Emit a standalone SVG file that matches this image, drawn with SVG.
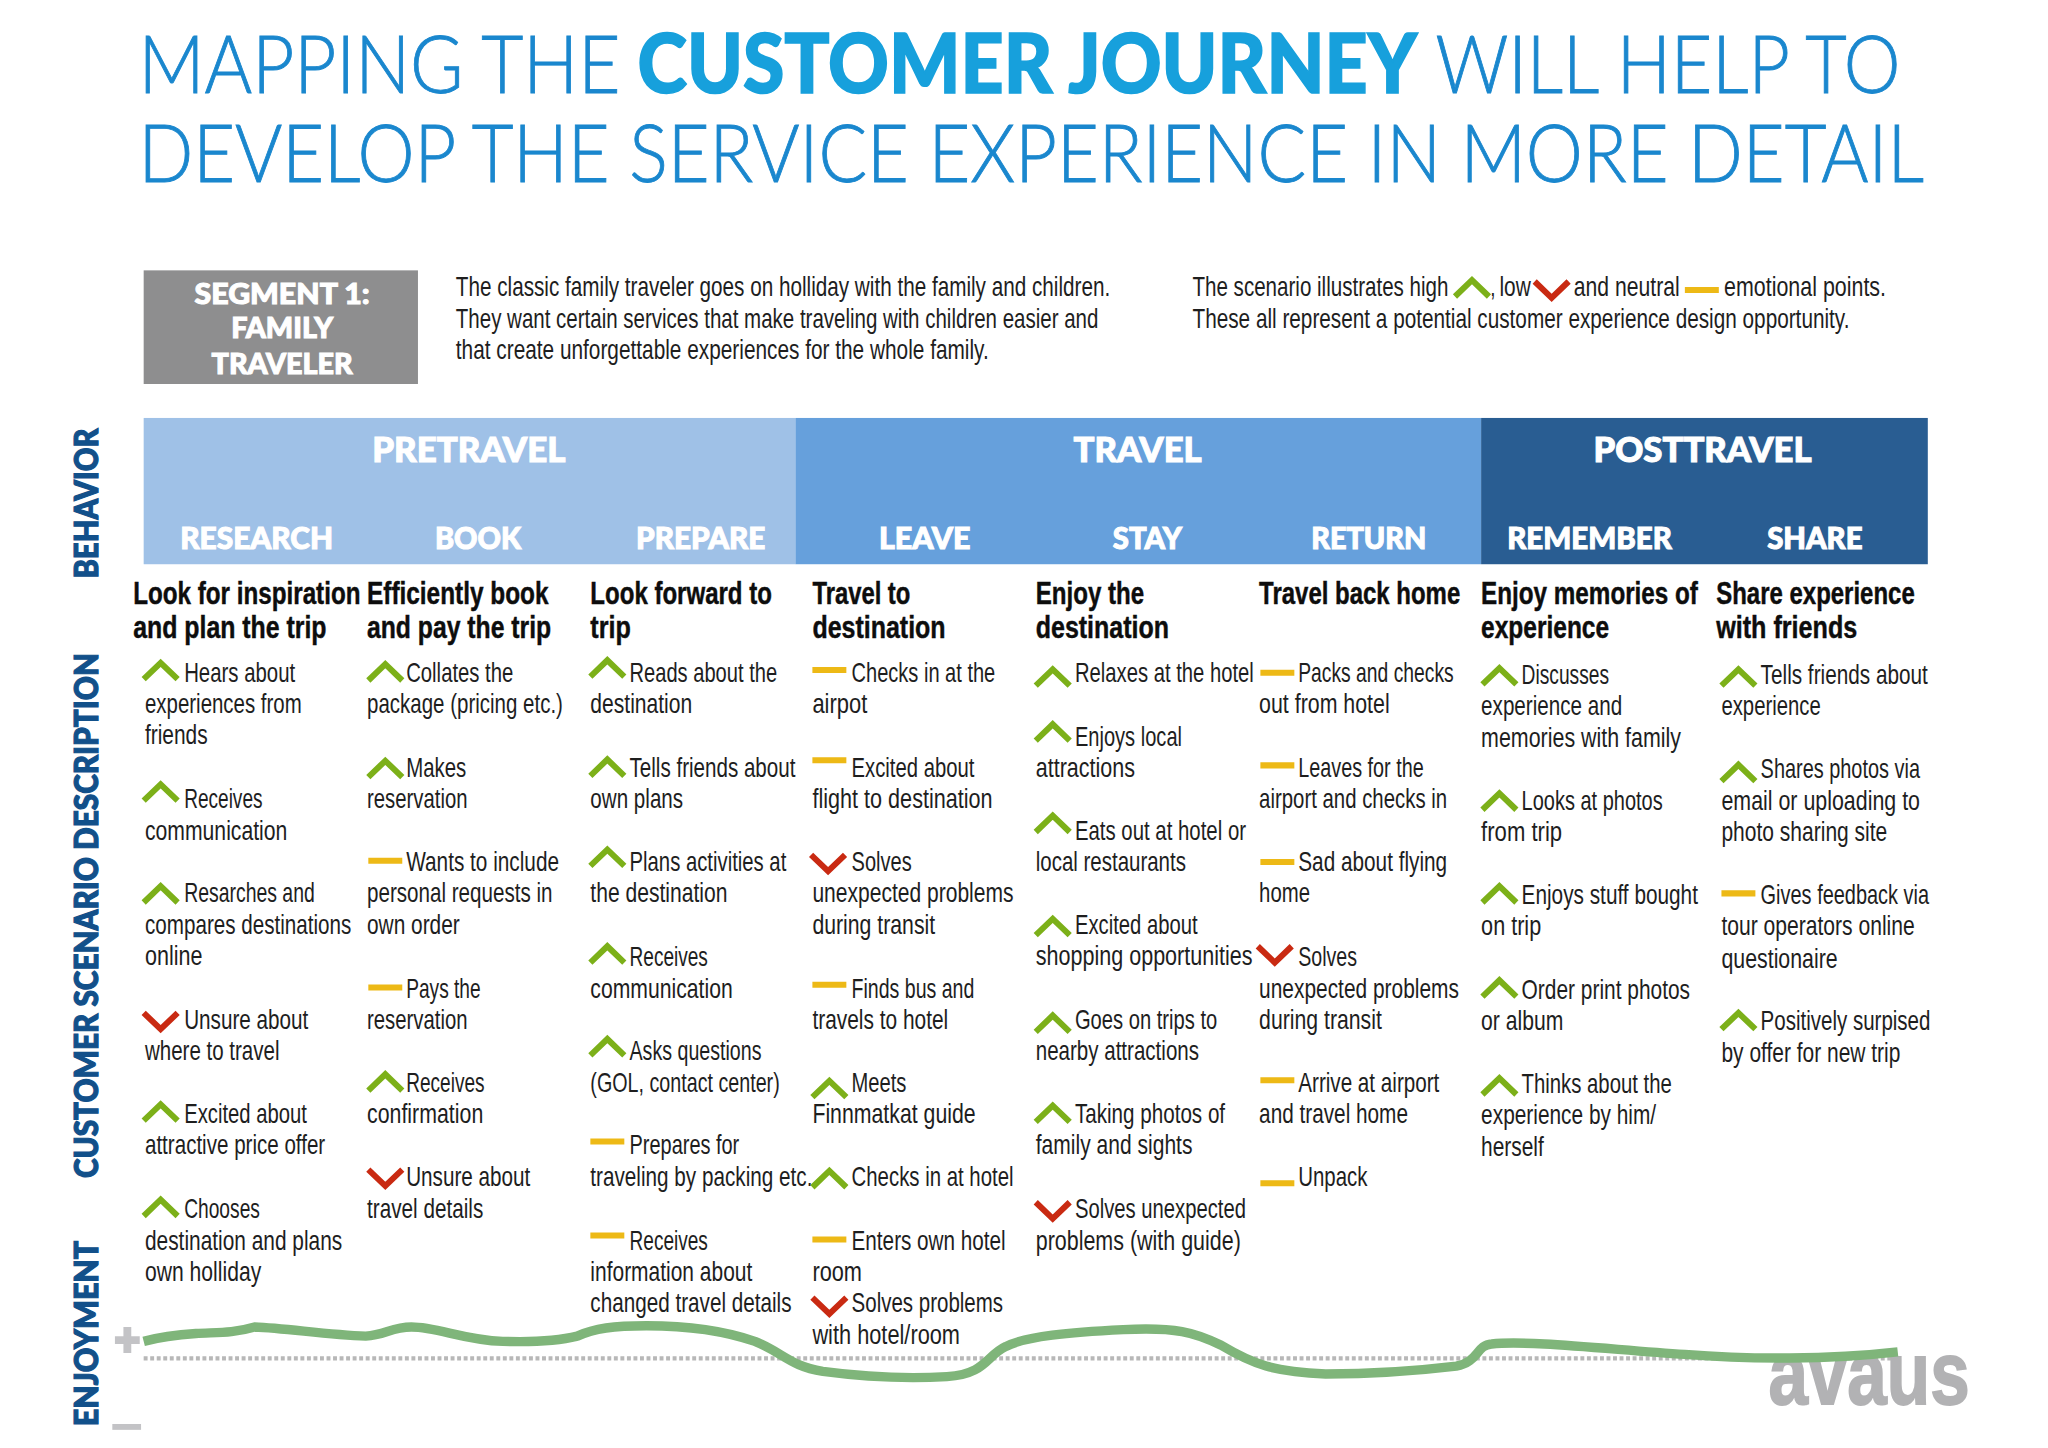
<svg xmlns="http://www.w3.org/2000/svg" width="2048" height="1448" viewBox="0 0 2048 1448">
<style>
text{font-family:"Liberation Sans Narrow","Liberation Sans",sans-serif}
.t{font-size:21.5px;fill:#1e1e1e;transform:translateY(.8px)}
.h{font-size:24.5px;font-weight:700;fill:#0d0d0d;stroke:#0d0d0d;stroke-width:.35px;transform:translateY(.8px)}
.b{font-weight:900;fill:#fff;stroke:#fff;stroke-width:.8px;font-size:26.5px;font-family:"Lato","Open Sans",sans-serif}
.s{font-size:23px}
.g{font-size:22px}
.m{font-family:"Lato","Open Sans",sans-serif;font-size:62px;font-weight:300;fill:#1a87ce;stroke:#1a87ce;stroke-width:.7px}
.mb{font-weight:900;fill:#17a0dc;stroke:#17a0dc;stroke-width:1.2px}
.v{font-family:"Lato","Open Sans",sans-serif;font-weight:900;font-size:24px;fill:#12508a;stroke:#12508a;stroke-width:.9px}
.i{fill:none;stroke-width:4.6}
</style>
<defs>
<polyline id="up" class="i" stroke="#7cb019" points="1,15 14,2.5 27,15"/>
<polyline id="dn" class="i" stroke="#c92a12" points="1,1.5 14,14 27,1.5"/>
<line id="ne" class="i" stroke="#edb916" x1="0" x2="26" y1="0" y2="0"/>
</defs>
<rect width="2048" height="1448" fill="#fff"/>
<g transform="scale(1.3061)">
<g id="title">
<text class="m" x="106" y="71" textLength="369" lengthAdjust="spacingAndGlyphs">MAPPING THE</text>
<text class="m mb" x="488" y="71" textLength="597" lengthAdjust="spacingAndGlyphs">CUSTOMER JOURNEY</text>
<text class="m" x="1099" y="71" textLength="356" lengthAdjust="spacingAndGlyphs">WILL HELP TO</text>
<text class="m" x="106" y="139" textLength="1367" lengthAdjust="spacingAndGlyphs">DEVELOP THE SERVICE EXPERIENCE IN MORE DETAIL</text>
</g>
<g id="segment">
<rect x="110" y="207" width="210" height="87" fill="#8e8e8f"/>
<text class="b g" x="149" y="233" textLength="134" lengthAdjust="spacingAndGlyphs">SEGMENT 1:</text>
<text class="b g" x="177" y="259" textLength="78" lengthAdjust="spacingAndGlyphs">FAMILY</text>
<text class="b g" x="162" y="286" textLength="108" lengthAdjust="spacingAndGlyphs">TRAVELER</text>
</g>
<g id="intro">
<text class="t" x="349" y="226" textLength="501" lengthAdjust="spacingAndGlyphs">The classic family traveler goes on holliday with the family and children.</text>
<text class="t" x="349" y="250" textLength="492" lengthAdjust="spacingAndGlyphs">They want certain services that make traveling with children easier and</text>
<text class="t" x="349" y="274" textLength="408" lengthAdjust="spacingAndGlyphs">that create unforgettable experiences for the whole family.</text>
</g>
<g id="legend">
<text class="t" x="913" y="226" textLength="196" lengthAdjust="spacingAndGlyphs">The scenario illustrates high</text>
<use href="#up" x="1113" y="212"/>
<text class="t" x="1141" y="226" textLength="4" lengthAdjust="spacingAndGlyphs">,</text>
<text class="t" x="1148" y="226" textLength="24" lengthAdjust="spacingAndGlyphs">low</text>
<use href="#dn" x="1174" y="214"/>
<text class="t" x="1205" y="226" textLength="81" lengthAdjust="spacingAndGlyphs">and neutral</text>
<use href="#ne" x="1290" y="222"/>
<text class="t" x="1320" y="226" textLength="124" lengthAdjust="spacingAndGlyphs">emotional points.</text>
<text class="t" x="913" y="250" textLength="503" lengthAdjust="spacingAndGlyphs">These all represent a potential customer experience design opportunity.</text>
</g>
<g id="band">
<rect x="110" y="320" width="499" height="112" fill="#9fc1e7"/>
<rect x="609" y="320" width="525" height="112" fill="#66a0dc"/>
<rect x="1134" y="320" width="342" height="112" fill="#295d92"/>
<text class="b" x="285" y="354" textLength="148" lengthAdjust="spacingAndGlyphs">PRETRAVEL</text>
<text class="b" x="822" y="354" textLength="98" lengthAdjust="spacingAndGlyphs">TRAVEL</text>
<text class="b" x="1220" y="354" textLength="167" lengthAdjust="spacingAndGlyphs">POSTTRAVEL</text>
<text class="b s" x="138" y="420" textLength="117" lengthAdjust="spacingAndGlyphs">RESEARCH</text>
<text class="b s" x="333" y="420" textLength="66" lengthAdjust="spacingAndGlyphs">BOOK</text>
<text class="b s" x="487" y="420" textLength="99" lengthAdjust="spacingAndGlyphs">PREPARE</text>
<text class="b s" x="673" y="420" textLength="70" lengthAdjust="spacingAndGlyphs">LEAVE</text>
<text class="b s" x="852" y="420" textLength="53" lengthAdjust="spacingAndGlyphs">STAY</text>
<text class="b s" x="1004" y="420" textLength="88" lengthAdjust="spacingAndGlyphs">RETURN</text>
<text class="b s" x="1154" y="420" textLength="126" lengthAdjust="spacingAndGlyphs">REMEMBER</text>
<text class="b s" x="1353" y="420" textLength="73" lengthAdjust="spacingAndGlyphs">SHARE</text>
</g>
<g id="side-labels">
<text class="v" transform="translate(75,443) rotate(-90)" textLength="115" lengthAdjust="spacingAndGlyphs">BEHAVIOR</text>
<text class="v" transform="translate(75,902) rotate(-90)" textLength="402" lengthAdjust="spacingAndGlyphs">CUSTOMER SCENARIO DESCRIPTION</text>
<text class="v" transform="translate(75,1092) rotate(-90)" textLength="142" lengthAdjust="spacingAndGlyphs">ENJOYMENT</text>
</g>
<g id="col-research">
<text class="h" x="102" y="462" textLength="174" lengthAdjust="spacingAndGlyphs">Look for inspiration</text>
<text class="h" x="102" y="488" textLength="148" lengthAdjust="spacingAndGlyphs">and plan the trip</text>
<use href="#up" x="109" y="505"/>
<text class="t" x="141" y="521" textLength="85" lengthAdjust="spacingAndGlyphs">Hears about</text>
<text class="t" x="111" y="545" textLength="120" lengthAdjust="spacingAndGlyphs">experiences from</text>
<text class="t" x="111" y="569" textLength="48" lengthAdjust="spacingAndGlyphs">friends</text>
<use href="#up" x="109" y="598"/>
<text class="t" x="141" y="618" textLength="60" lengthAdjust="spacingAndGlyphs">Receives</text>
<text class="t" x="111" y="642" textLength="109" lengthAdjust="spacingAndGlyphs">communication</text>
<use href="#up" x="109" y="676"/>
<text class="t" x="141" y="690" textLength="100" lengthAdjust="spacingAndGlyphs">Resarches and</text>
<text class="t" x="111" y="714" textLength="158" lengthAdjust="spacingAndGlyphs">compares destinations</text>
<text class="t" x="111" y="738" textLength="44" lengthAdjust="spacingAndGlyphs">online</text>
<use href="#dn" x="109" y="774"/>
<text class="t" x="141" y="787" textLength="95" lengthAdjust="spacingAndGlyphs">Unsure about</text>
<text class="t" x="111" y="811" textLength="103" lengthAdjust="spacingAndGlyphs">where to travel</text>
<use href="#up" x="109" y="843"/>
<text class="t" x="141" y="859" textLength="94" lengthAdjust="spacingAndGlyphs">Excited about</text>
<text class="t" x="111" y="883" textLength="138" lengthAdjust="spacingAndGlyphs">attractive price offer</text>
<use href="#up" x="109" y="916"/>
<text class="t" x="141" y="932" textLength="58" lengthAdjust="spacingAndGlyphs">Chooses</text>
<text class="t" x="111" y="956" textLength="151" lengthAdjust="spacingAndGlyphs">destination and plans</text>
<text class="t" x="111" y="980" textLength="89" lengthAdjust="spacingAndGlyphs">own holliday</text>
</g>
<g id="col-book">
<text class="h" x="281" y="462" textLength="139" lengthAdjust="spacingAndGlyphs">Efficiently book</text>
<text class="h" x="281" y="488" textLength="141" lengthAdjust="spacingAndGlyphs">and pay the trip</text>
<use href="#up" x="281" y="506"/>
<text class="t" x="311" y="521" textLength="82" lengthAdjust="spacingAndGlyphs">Collates the</text>
<text class="t" x="281" y="545" textLength="150" lengthAdjust="spacingAndGlyphs">package (pricing etc.)</text>
<use href="#up" x="281" y="580"/>
<text class="t" x="311" y="594" textLength="46" lengthAdjust="spacingAndGlyphs">Makes</text>
<text class="t" x="281" y="618" textLength="77" lengthAdjust="spacingAndGlyphs">reservation</text>
<use href="#ne" x="282" y="659"/>
<text class="t" x="311" y="666" textLength="117" lengthAdjust="spacingAndGlyphs">Wants to include</text>
<text class="t" x="281" y="690" textLength="142" lengthAdjust="spacingAndGlyphs">personal requests in</text>
<text class="t" x="281" y="714" textLength="71" lengthAdjust="spacingAndGlyphs">own order</text>
<use href="#ne" x="282" y="756"/>
<text class="t" x="311" y="763" textLength="57" lengthAdjust="spacingAndGlyphs">Pays the</text>
<text class="t" x="281" y="787" textLength="77" lengthAdjust="spacingAndGlyphs">reservation</text>
<use href="#up" x="281" y="820"/>
<text class="t" x="311" y="835" textLength="60" lengthAdjust="spacingAndGlyphs">Receives</text>
<text class="t" x="281" y="859" textLength="89" lengthAdjust="spacingAndGlyphs">confirmation</text>
<use href="#dn" x="281" y="894"/>
<text class="t" x="311" y="907" textLength="95" lengthAdjust="spacingAndGlyphs">Unsure about</text>
<text class="t" x="281" y="932" textLength="89" lengthAdjust="spacingAndGlyphs">travel details</text>
</g>
<g id="col-prepare">
<text class="h" x="452" y="462" textLength="139" lengthAdjust="spacingAndGlyphs">Look forward to</text>
<text class="h" x="452" y="488" textLength="31" lengthAdjust="spacingAndGlyphs">trip</text>
<use href="#up" x="451" y="503"/>
<text class="t" x="482" y="521" textLength="113" lengthAdjust="spacingAndGlyphs">Reads about the</text>
<text class="t" x="452" y="545" textLength="78" lengthAdjust="spacingAndGlyphs">destination</text>
<use href="#up" x="451" y="579"/>
<text class="t" x="482" y="594" textLength="127" lengthAdjust="spacingAndGlyphs">Tells friends about</text>
<text class="t" x="452" y="618" textLength="71" lengthAdjust="spacingAndGlyphs">own plans</text>
<use href="#up" x="451" y="648"/>
<text class="t" x="482" y="666" textLength="120" lengthAdjust="spacingAndGlyphs">Plans activities at</text>
<text class="t" x="452" y="690" textLength="105" lengthAdjust="spacingAndGlyphs">the destination</text>
<use href="#up" x="451" y="722"/>
<text class="t" x="482" y="739" textLength="60" lengthAdjust="spacingAndGlyphs">Receives</text>
<text class="t" x="452" y="763" textLength="109" lengthAdjust="spacingAndGlyphs">communication</text>
<use href="#up" x="451" y="793"/>
<text class="t" x="482" y="811" textLength="101" lengthAdjust="spacingAndGlyphs">Asks questions</text>
<text class="t" x="452" y="835" textLength="145" lengthAdjust="spacingAndGlyphs">(GOL, contact center)</text>
<use href="#ne" x="452" y="874"/>
<text class="t" x="482" y="883" textLength="84" lengthAdjust="spacingAndGlyphs">Prepares for</text>
<text class="t" x="452" y="907" textLength="170" lengthAdjust="spacingAndGlyphs">traveling by packing etc.</text>
<use href="#ne" x="452" y="946"/>
<text class="t" x="482" y="956" textLength="60" lengthAdjust="spacingAndGlyphs">Receives</text>
<text class="t" x="452" y="980" textLength="124" lengthAdjust="spacingAndGlyphs">information about</text>
<text class="t" x="452" y="1004" textLength="154" lengthAdjust="spacingAndGlyphs">changed travel details</text>
</g>
<g id="col-leave">
<text class="h" x="622" y="462" textLength="75" lengthAdjust="spacingAndGlyphs">Travel to</text>
<text class="h" x="622" y="488" textLength="102" lengthAdjust="spacingAndGlyphs">destination</text>
<use href="#ne" x="622" y="513"/>
<text class="t" x="652" y="521" textLength="110" lengthAdjust="spacingAndGlyphs">Checks in at the</text>
<text class="t" x="622" y="545" textLength="42" lengthAdjust="spacingAndGlyphs">airpot</text>
<use href="#ne" x="622" y="582"/>
<text class="t" x="652" y="594" textLength="94" lengthAdjust="spacingAndGlyphs">Excited about</text>
<text class="t" x="622" y="618" textLength="138" lengthAdjust="spacingAndGlyphs">flight to destination</text>
<use href="#dn" x="620" y="653"/>
<text class="t" x="652" y="666" textLength="46" lengthAdjust="spacingAndGlyphs">Solves</text>
<text class="t" x="622" y="690" textLength="154" lengthAdjust="spacingAndGlyphs">unexpected problems</text>
<text class="t" x="622" y="714" textLength="94" lengthAdjust="spacingAndGlyphs">during transit</text>
<use href="#ne" x="622" y="754"/>
<text class="t" x="652" y="763" textLength="94" lengthAdjust="spacingAndGlyphs">Finds bus and</text>
<text class="t" x="622" y="787" textLength="104" lengthAdjust="spacingAndGlyphs">travels to hotel</text>
<use href="#up" x="621" y="825"/>
<text class="t" x="652" y="835" textLength="42" lengthAdjust="spacingAndGlyphs">Meets</text>
<text class="t" x="622" y="859" textLength="125" lengthAdjust="spacingAndGlyphs">Finnmatkat guide</text>
<use href="#up" x="621" y="894"/>
<text class="t" x="652" y="907" textLength="124" lengthAdjust="spacingAndGlyphs">Checks in at hotel</text>
<use href="#ne" x="622" y="949"/>
<text class="t" x="652" y="956" textLength="118" lengthAdjust="spacingAndGlyphs">Enters own hotel</text>
<text class="t" x="622" y="980" textLength="38" lengthAdjust="spacingAndGlyphs">room</text>
<use href="#dn" x="621" y="992"/>
<text class="t" x="652" y="1004" textLength="116" lengthAdjust="spacingAndGlyphs">Solves problems</text>
<text class="t" x="622" y="1028" textLength="113" lengthAdjust="spacingAndGlyphs">with hotel/room</text>
</g>
<g id="col-stay">
<text class="h" x="793" y="462" textLength="83" lengthAdjust="spacingAndGlyphs">Enjoy the</text>
<text class="h" x="793" y="488" textLength="102" lengthAdjust="spacingAndGlyphs">destination</text>
<use href="#up" x="792" y="510"/>
<text class="t" x="823" y="521" textLength="137" lengthAdjust="spacingAndGlyphs">Relaxes at the hotel</text>
<use href="#up" x="792" y="552"/>
<text class="t" x="823" y="570" textLength="82" lengthAdjust="spacingAndGlyphs">Enjoys local</text>
<text class="t" x="793" y="594" textLength="76" lengthAdjust="spacingAndGlyphs">attractions</text>
<use href="#up" x="792" y="622"/>
<text class="t" x="823" y="642" textLength="131" lengthAdjust="spacingAndGlyphs">Eats out at hotel or</text>
<text class="t" x="793" y="666" textLength="115" lengthAdjust="spacingAndGlyphs">local restaurants</text>
<use href="#up" x="792" y="701"/>
<text class="t" x="823" y="714" textLength="94" lengthAdjust="spacingAndGlyphs">Excited about</text>
<text class="t" x="793" y="738" textLength="166" lengthAdjust="spacingAndGlyphs">shopping opportunities</text>
<use href="#up" x="792" y="775"/>
<text class="t" x="823" y="787" textLength="109" lengthAdjust="spacingAndGlyphs">Goes on trips to</text>
<text class="t" x="793" y="811" textLength="125" lengthAdjust="spacingAndGlyphs">nearby attractions</text>
<use href="#up" x="792" y="844"/>
<text class="t" x="823" y="859" textLength="115" lengthAdjust="spacingAndGlyphs">Taking photos of</text>
<text class="t" x="793" y="883" textLength="120" lengthAdjust="spacingAndGlyphs">family and sights</text>
<use href="#dn" x="792" y="919"/>
<text class="t" x="823" y="932" textLength="131" lengthAdjust="spacingAndGlyphs">Solves unexpected</text>
<text class="t" x="793" y="956" textLength="157" lengthAdjust="spacingAndGlyphs">problems (with guide)</text>
</g>
<g id="col-return">
<text class="h" x="964" y="462" textLength="154" lengthAdjust="spacingAndGlyphs">Travel back home</text>
<use href="#ne" x="965" y="515"/>
<text class="t" x="994" y="521" textLength="119" lengthAdjust="spacingAndGlyphs">Packs and checks</text>
<text class="t" x="964" y="545" textLength="100" lengthAdjust="spacingAndGlyphs">out from hotel</text>
<use href="#ne" x="965" y="586"/>
<text class="t" x="994" y="594" textLength="96" lengthAdjust="spacingAndGlyphs">Leaves for the</text>
<text class="t" x="964" y="618" textLength="144" lengthAdjust="spacingAndGlyphs">airport and checks in</text>
<use href="#ne" x="965" y="660"/>
<text class="t" x="994" y="666" textLength="114" lengthAdjust="spacingAndGlyphs">Sad about flying</text>
<text class="t" x="964" y="690" textLength="39" lengthAdjust="spacingAndGlyphs">home</text>
<use href="#dn" x="962" y="723"/>
<text class="t" x="994" y="739" textLength="45" lengthAdjust="spacingAndGlyphs">Solves</text>
<text class="t" x="964" y="763" textLength="153" lengthAdjust="spacingAndGlyphs">unexpected problems</text>
<text class="t" x="964" y="787" textLength="94" lengthAdjust="spacingAndGlyphs">during transit</text>
<use href="#ne" x="965" y="827"/>
<text class="t" x="994" y="835" textLength="108" lengthAdjust="spacingAndGlyphs">Arrive at airport</text>
<text class="t" x="964" y="859" textLength="114" lengthAdjust="spacingAndGlyphs">and travel home</text>
<use href="#ne" x="965" y="906"/>
<text class="t" x="994" y="907" textLength="53" lengthAdjust="spacingAndGlyphs">Unpack</text>
</g>
<g id="col-remember">
<text class="h" x="1134" y="462" textLength="166" lengthAdjust="spacingAndGlyphs">Enjoy memories of</text>
<text class="h" x="1134" y="488" textLength="98" lengthAdjust="spacingAndGlyphs">experience</text>
<use href="#up" x="1134" y="509"/>
<text class="t" x="1165" y="523" textLength="67" lengthAdjust="spacingAndGlyphs">Discusses</text>
<text class="t" x="1134" y="547" textLength="108" lengthAdjust="spacingAndGlyphs">experience and</text>
<text class="t" x="1134" y="571" textLength="153" lengthAdjust="spacingAndGlyphs">memories with family</text>
<use href="#up" x="1134" y="605"/>
<text class="t" x="1165" y="619" textLength="108" lengthAdjust="spacingAndGlyphs">Looks at photos</text>
<text class="t" x="1134" y="643" textLength="62" lengthAdjust="spacingAndGlyphs">from trip</text>
<use href="#up" x="1134" y="676"/>
<text class="t" x="1165" y="691" textLength="135" lengthAdjust="spacingAndGlyphs">Enjoys stuff bought</text>
<text class="t" x="1134" y="715" textLength="46" lengthAdjust="spacingAndGlyphs">on trip</text>
<use href="#up" x="1134" y="748"/>
<text class="t" x="1165" y="764" textLength="129" lengthAdjust="spacingAndGlyphs">Order print photos</text>
<text class="t" x="1134" y="788" textLength="63" lengthAdjust="spacingAndGlyphs">or album</text>
<use href="#up" x="1134" y="823"/>
<text class="t" x="1165" y="836" textLength="115" lengthAdjust="spacingAndGlyphs">Thinks about the</text>
<text class="t" x="1134" y="860" textLength="134" lengthAdjust="spacingAndGlyphs">experience by him/</text>
<text class="t" x="1134" y="884" textLength="48" lengthAdjust="spacingAndGlyphs">herself</text>
</g>
<g id="col-share">
<text class="h" x="1314" y="462" textLength="152" lengthAdjust="spacingAndGlyphs">Share experience</text>
<text class="h" x="1314" y="488" textLength="108" lengthAdjust="spacingAndGlyphs">with friends</text>
<use href="#up" x="1317" y="510"/>
<text class="t" x="1348" y="523" textLength="128" lengthAdjust="spacingAndGlyphs">Tells friends about</text>
<text class="t" x="1318" y="547" textLength="76" lengthAdjust="spacingAndGlyphs">experience</text>
<use href="#up" x="1317" y="583"/>
<text class="t" x="1348" y="595" textLength="122" lengthAdjust="spacingAndGlyphs">Shares photos via</text>
<text class="t" x="1318" y="619" textLength="152" lengthAdjust="spacingAndGlyphs">email or uploading to</text>
<text class="t" x="1318" y="643" textLength="127" lengthAdjust="spacingAndGlyphs">photo sharing site</text>
<use href="#ne" x="1318" y="684"/>
<text class="t" x="1348" y="691" textLength="129" lengthAdjust="spacingAndGlyphs">Gives feedback via</text>
<text class="t" x="1318" y="715" textLength="148" lengthAdjust="spacingAndGlyphs">tour operators online</text>
<text class="t" x="1318" y="740" textLength="89" lengthAdjust="spacingAndGlyphs">questionaire</text>
<use href="#up" x="1317" y="773"/>
<text class="t" x="1348" y="788" textLength="130" lengthAdjust="spacingAndGlyphs">Positively surpised</text>
<text class="t" x="1318" y="812" textLength="137" lengthAdjust="spacingAndGlyphs">by offer for new trip</text>
</g>
<g id="enjoyment-chart">
<path d="M88,1026H107M97.5,1016V1036" fill="none" stroke="#c3c3c6" stroke-width="6"/>
<path d="M86,1092.5H108" fill="none" stroke="#c3c3c6" stroke-width="4.5"/>
<line x1="110" y1="1040" x2="1455" y2="1040" stroke="#b8b8b8" stroke-width="3.2" stroke-dasharray="3 2"/>
<text x="1354" y="1075" textLength="154" lengthAdjust="spacingAndGlyphs" font-size="68" font-weight="700" fill="#b2b2b4" stroke="#b2b2b4" stroke-width="1.4">avaus</text>
<path d="M110,1027C125,1023 135,1022 150,1021S178,1021 195,1016C220,1017 250,1022 280,1023C295,1022 300,1016 315,1016C335,1016 355,1026 385,1027C415,1028 430,1026 442,1023C455,1017 470,1015 495,1015C525,1015 555,1019 578,1027C600,1036 605,1046 630,1050C660,1054 690,1056 725,1054C755,1052 755,1038 770,1031C785,1023 820,1020 860,1018C900,1016 915,1020 935,1030C960,1045 975,1050 1015,1052C1050,1052 1090,1049 1115,1046C1132,1043 1130,1030 1142,1029C1170,1026 1230,1033 1290,1037C1340,1041 1400,1041 1453,1035" fill="none" stroke="#7fb57a" stroke-width="7.2"/>
</g>
</g>
</svg>
